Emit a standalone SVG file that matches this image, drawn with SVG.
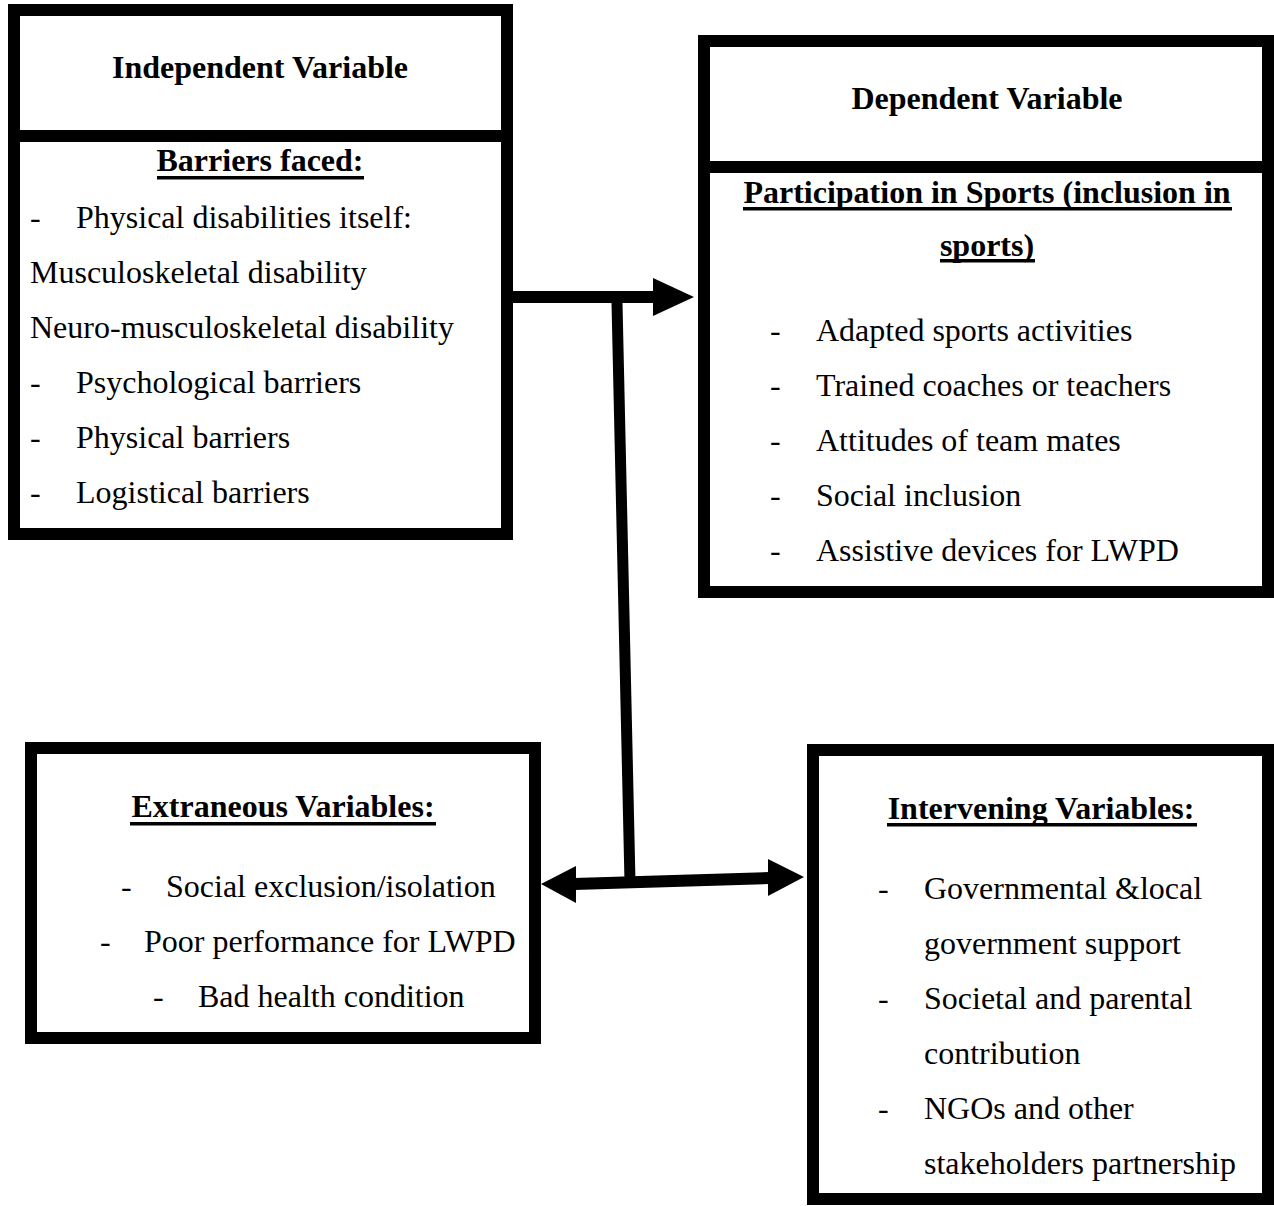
<svg xmlns="http://www.w3.org/2000/svg" width="1274" height="1206" viewBox="0 0 1274 1206">
<style>
.box{fill:#fff;stroke:#000;stroke-width:12}
.div{stroke:#000;stroke-width:12}
text{font-family:"Liberation Serif","Times New Roman",serif;font-size:32px;fill:#000}
.h{font-weight:bold;text-anchor:middle}
.ul{fill:#000}
.con{stroke:#000;fill:none}
.head{fill:#000}
</style>
<rect width="1274" height="1206" fill="#fff"/>
<g id="independent">
<rect class="box" x="14" y="10" width="493" height="524"/>
<line class="div" x1="14" y1="136" x2="507" y2="136"/>
<text class="h" x="260" y="78">Independent Variable</text>
<text class="h" x="260" y="171">Barriers faced:</text>
<rect class="ul" x="157" y="176" width="207" height="3.5"/>
<text x="30" y="228">-</text><text x="76" y="228">Physical disabilities itself:</text>
<text x="30" y="283">Musculoskeletal disability</text>
<text x="30" y="338">Neuro-musculoskeletal disability</text>
<text x="30" y="393">-</text><text x="76" y="393">Psychological barriers</text>
<text x="30" y="448">-</text><text x="76" y="448">Physical barriers</text>
<text x="30" y="503">-</text><text x="76" y="503">Logistical barriers</text>
</g>
<g id="dependent">
<rect class="box" x="704" y="41" width="564" height="551"/>
<line class="div" x1="704" y1="167" x2="1268" y2="167"/>
<text class="h" x="987" y="109">Dependent Variable</text>
<text class="h" x="987" y="203">Participation in Sports (inclusion in</text>
<rect class="ul" x="743" y="207" width="489" height="3.5"/>
<text class="h" x="987" y="256">sports)</text>
<rect class="ul" x="940" y="259" width="95" height="3.5"/>
<text x="770" y="341">-</text><text x="816" y="341">Adapted sports activities</text>
<text x="770" y="396">-</text><text x="816" y="396">Trained coaches or teachers</text>
<text x="770" y="451">-</text><text x="816" y="451">Attitudes of team mates</text>
<text x="770" y="506">-</text><text x="816" y="506">Social inclusion</text>
<text x="770" y="561">-</text><text x="816" y="561">Assistive devices for LWPD</text>
</g>
<g id="extraneous">
<rect class="box" x="31" y="748" width="504" height="290"/>
<text class="h" x="283" y="817">Extraneous Variables:</text>
<rect class="ul" x="130" y="822" width="306" height="3.5"/>
<text x="121" y="897">-</text><text x="166" y="897">Social exclusion/isolation</text>
<text x="100" y="952">-</text><text x="144" y="952">Poor performance for LWPD</text>
<text x="153" y="1007">-</text><text x="198" y="1007">Bad health condition</text>
</g>
<g id="intervening">
<rect class="box" x="813" y="750" width="455" height="449"/>
<text class="h" x="1041" y="819">Intervening Variables:</text>
<rect class="ul" x="887" y="823" width="310" height="3.5"/>
<text x="878" y="899">-</text><text x="924" y="899">Governmental &amp;local</text>
<text x="924" y="954">government support</text>
<text x="878" y="1009">-</text><text x="924" y="1009">Societal and parental</text>
<text x="924" y="1064">contribution</text>
<text x="878" y="1119">-</text><text x="924" y="1119">NGOs and other</text>
<text x="924" y="1174">stakeholders partnership</text>
</g>
<g id="connectors">
<line class="con" x1="513" y1="297" x2="655" y2="297" stroke-width="12"/>
<polygon class="head" points="653,278 694,297 653,316"/>
<line class="con" x1="617" y1="303" x2="630" y2="882" stroke-width="11"/>
<line class="con" x1="574" y1="884" x2="770" y2="878" stroke-width="12"/>
<polygon class="head" points="541,884 576,866 576,903"/>
<polygon class="head" points="804,877 768,859 768,896"/>
</g>
</svg>
